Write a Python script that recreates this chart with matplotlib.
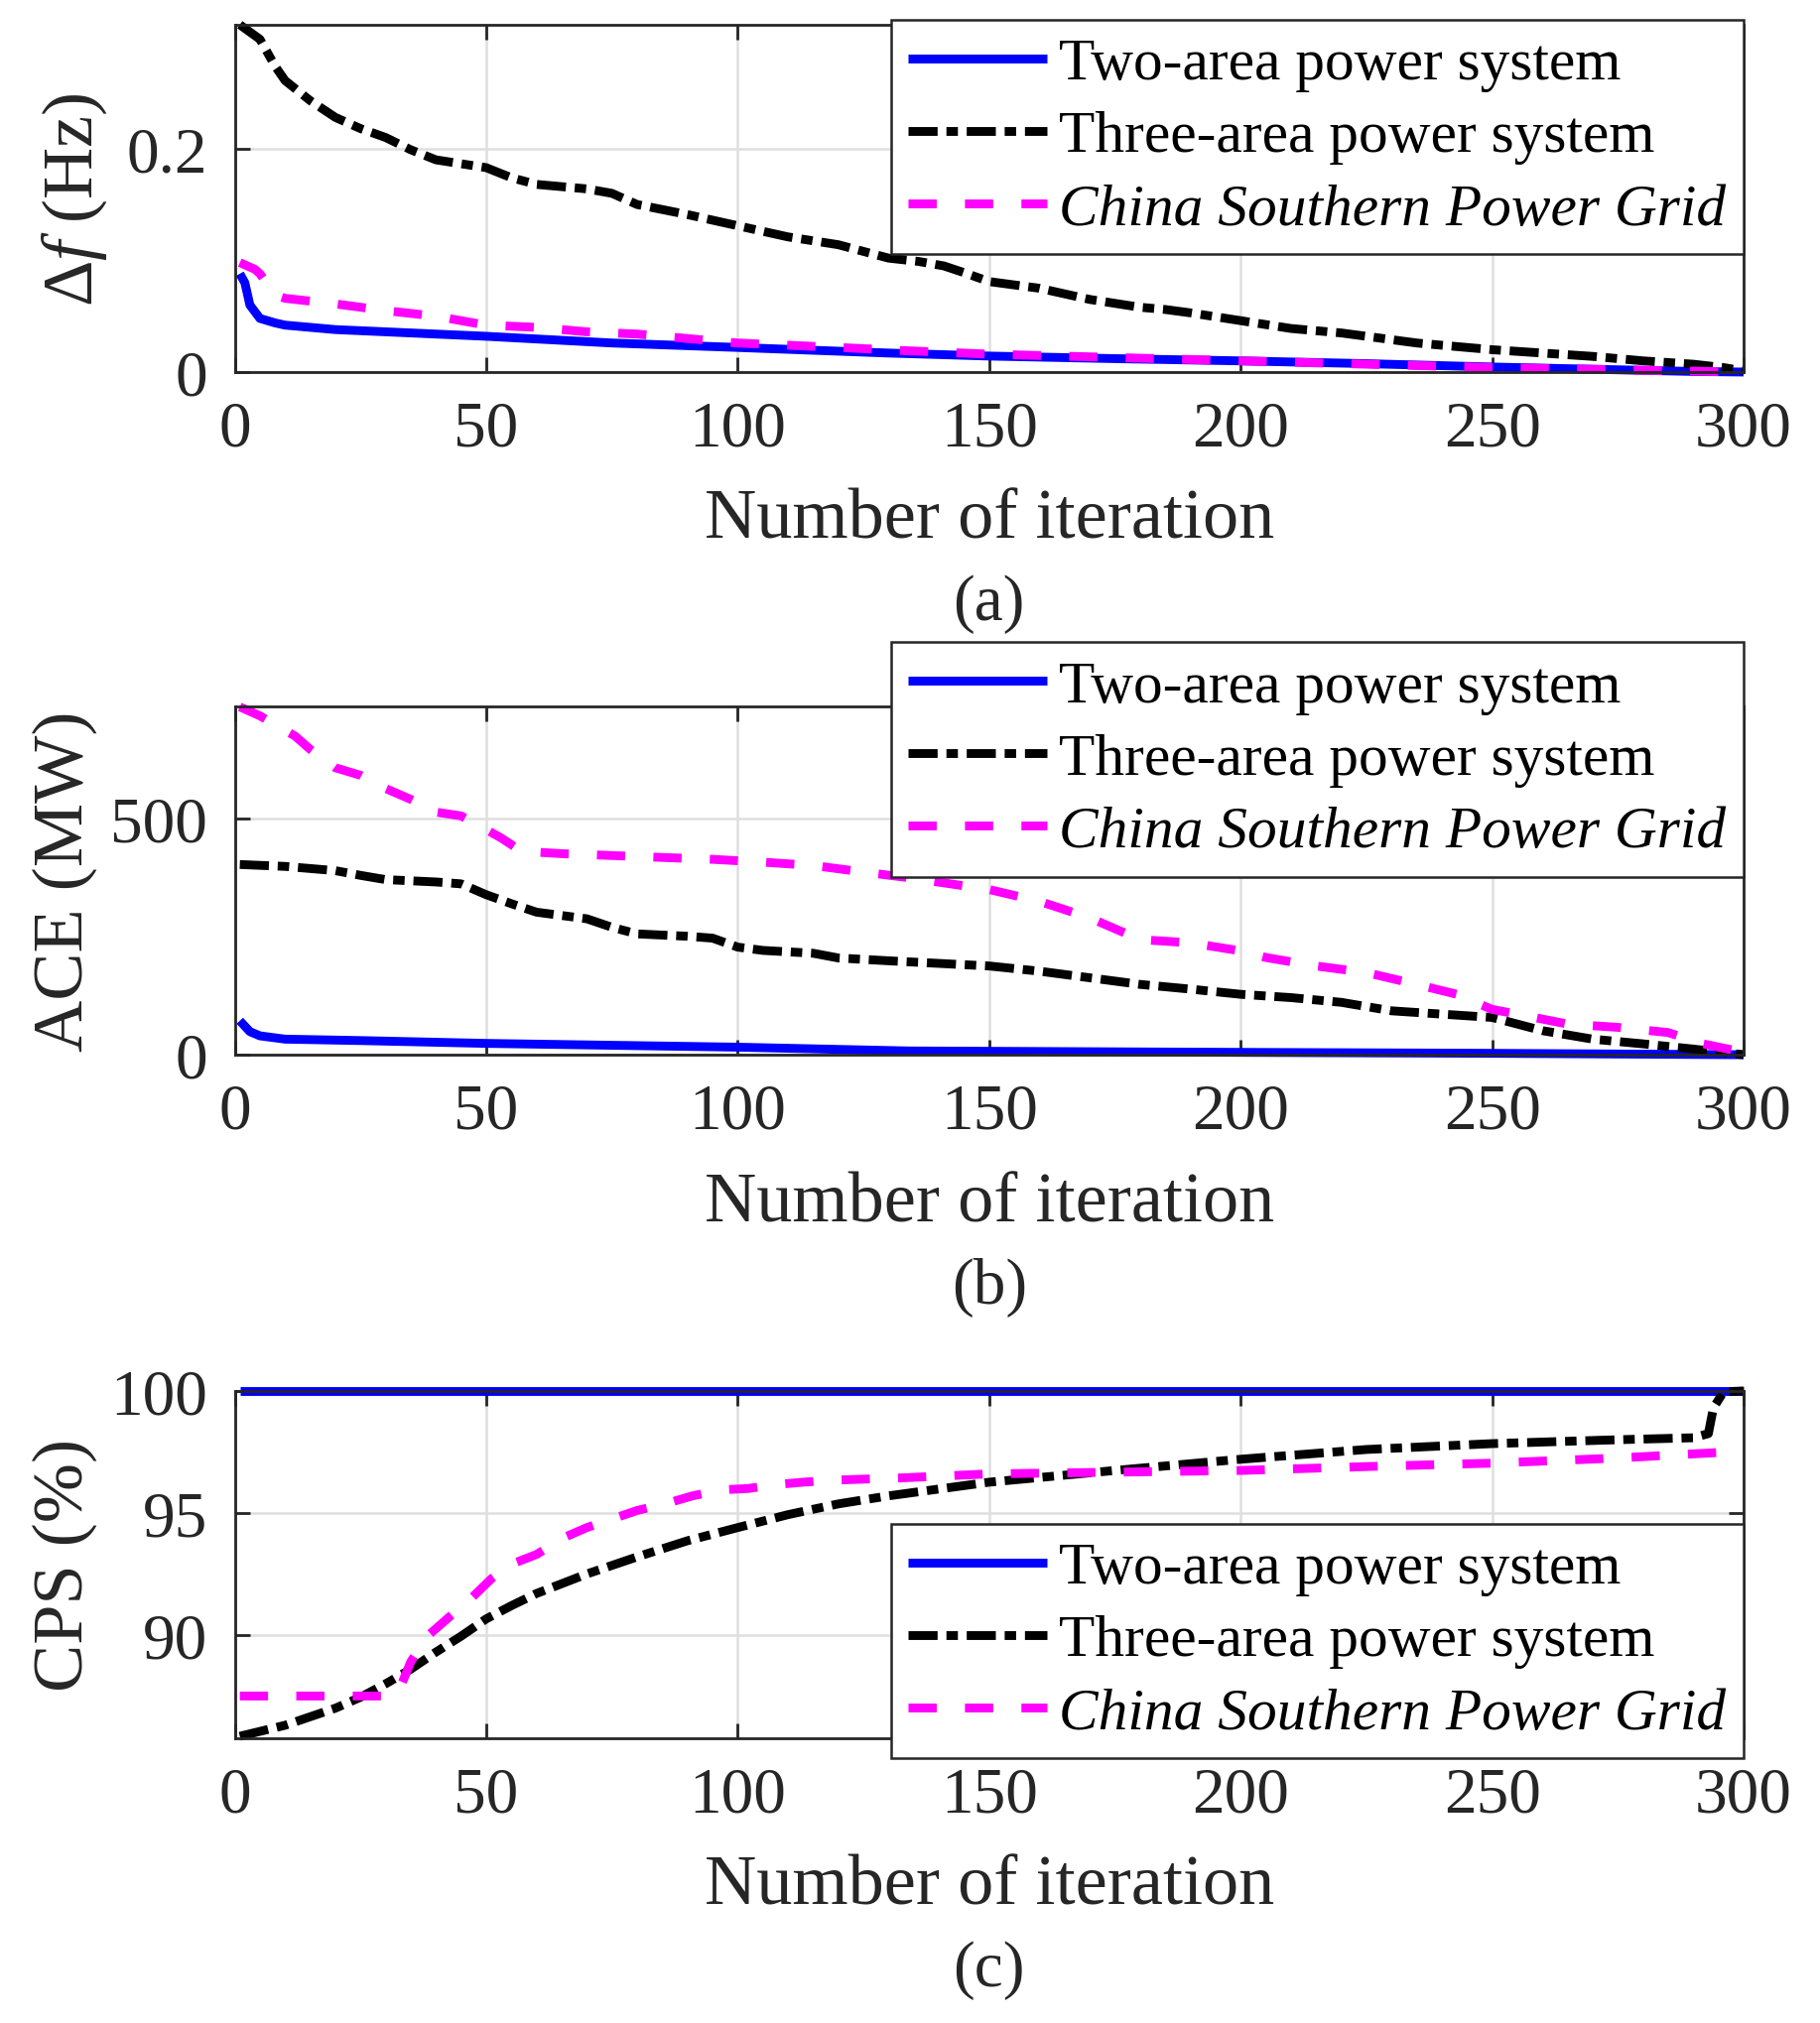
import matplotlib
matplotlib.use("Agg")
import matplotlib.pyplot as plt

# -----------------------------
# Data
# -----------------------------
series_names = ["Two-area power system", "Three-area power system",
                "China Southern Power Grid"]
x_ticks = [0, 50, 100, 150, 200, 250, 300]

# (a) frequency deviation (Hz)
it_df_two = [1, 2, 3, 5, 8, 10, 20, 50, 75, 100, 130, 150, 175, 200, 225, 250, 275, 290, 300]
df_two = [0.088, 0.080, 0.060, 0.048, 0.044, 0.042, 0.038, 0.032, 0.026, 0.022, 0.017,
          0.0143, 0.012, 0.010, 0.0075, 0.0045, 0.002, 0.0005, 0.0]

it_df_three = [1, 5, 8, 10, 15, 20, 25, 30, 35, 40, 50, 55, 60, 70, 75, 80, 90, 100, 110,
               120, 125, 130, 136, 141, 145, 150, 160, 170, 180, 185, 190, 200, 210, 220,
               225, 235, 245, 250, 260, 270, 280, 290, 296, 300]
df_three = [0.311, 0.298, 0.274, 0.261, 0.243, 0.228, 0.218, 0.210, 0.199, 0.190, 0.183,
            0.174, 0.168, 0.164, 0.160, 0.150, 0.141, 0.131, 0.121, 0.114, 0.108, 0.102,
            0.099, 0.095, 0.089, 0.081, 0.075, 0.065, 0.058, 0.056, 0.053, 0.046, 0.039,
            0.035, 0.032, 0.026, 0.022, 0.020, 0.017, 0.014, 0.010, 0.007, 0.004, 0.001]

it_df_csg = [1, 4, 5, 8, 10, 20, 30, 40, 50, 60, 70, 80, 90, 100, 110, 120, 134, 150, 175,
             200, 225, 250, 275, 300]
df_csg = [0.098, 0.092, 0.088, 0.069, 0.066, 0.061, 0.055, 0.050, 0.042, 0.040, 0.036,
          0.034, 0.030, 0.026, 0.024, 0.022, 0.019, 0.016, 0.013, 0.010, 0.007, 0.004,
          0.002, 0.0]

# (b) ACE (MW)
it_ace_two = [1, 3, 5, 10, 25, 50, 100, 134, 200, 250, 300]
ace_two = [72, 49, 40, 33, 30, 24, 16, 8, 5, 3, 0]

it_ace_three = [1, 10, 20, 25, 30, 40, 45, 50, 55, 60, 65, 70, 75, 80, 90, 95, 100, 105,
                115, 120, 130, 150, 160, 170, 180, 190, 200, 210, 220, 230, 240, 250, 260,
                270, 280, 290, 300]
ace_three = [403, 399, 390, 380, 371, 366, 362, 339, 320, 302, 295, 288, 270, 256, 251,
             247, 228, 221, 215, 205, 199, 188, 177, 163, 149, 139, 128, 121, 111, 93, 86,
             79, 51, 33, 23, 12, 0]

it_ace_csg = [1, 5, 12, 15, 20, 25, 30, 35, 40, 45, 50, 53, 57, 65, 80, 95, 105, 115, 125,
              134, 150, 160, 170, 180, 190, 200, 205, 215, 225, 235, 243, 250, 255, 265,
              275, 285, 292, 300]
ace_csg = [737, 718, 675, 647, 608, 592, 564, 541, 514, 506, 477, 459, 431, 426, 420, 414,
           408, 401, 387, 375, 350, 325, 290, 244, 237, 220, 206, 188, 174, 149, 128, 96,
           86, 65, 58, 47, 23, 5]

# (c) CPS (%)
it_cps_two = [1, 100, 200, 300]
cps_two = [100, 100, 100, 100]

it_cps_three = [1, 10, 20, 25, 30, 35, 40, 45, 50, 55, 60, 70, 80, 90, 100, 110, 120, 130,
                150, 175, 200, 225, 250, 275, 290, 293, 294, 296, 300]
cps_three = [85.85, 86.3, 87.0, 87.45, 88.0, 88.6, 89.3, 89.95, 90.66, 91.2, 91.7, 92.5,
             93.2, 93.86, 94.4, 94.93, 95.37, 95.7, 96.26, 96.74, 97.2, 97.6, 97.84, 98.0,
             98.08, 98.25, 99.3, 99.96, 100]

it_cps_csg = [1, 31, 33, 35, 38, 43, 47, 51, 55, 60, 65, 70, 75, 80, 86, 91, 97, 102, 108,
              113, 120, 133, 150, 175, 200, 225, 250, 275, 290, 300]
cps_csg = [87.5, 87.5, 87.9, 88.9, 89.9, 90.8, 91.5, 92.3, 92.9, 93.3, 93.95, 94.4, 94.75,
           95.1, 95.4, 95.7, 95.95, 96.0, 96.17, 96.26, 96.35, 96.44, 96.6, 96.67, 96.74,
           96.9, 97.04, 97.25, 97.42, 97.53]

# -----------------------------
# Style
# -----------------------------
plt.rcParams['font.family'] = ['Liberation Serif', 'DejaVu Serif']
plt.rcParams['mathtext.fontset'] = 'custom'
plt.rcParams['mathtext.rm'] = 'Liberation Serif'
plt.rcParams['mathtext.it'] = 'Liberation Serif:italic'

frame_col = '#262626'
grid_col = '#dfdfdf'
styles = [dict(color='#0000ff', linestyle='-'),
          dict(color='#000000', linestyle=(0, (3.3, 1.0, 1.3, 1.0))),
          dict(color='#ff00ff', linestyle=(0, (3.2, 3.2)))]
lw = 3.2

fig = plt.figure(figsize=(9.17, 10.2), dpi=200)

panels = [
    dict(rect=[0.129, 0.8157, 0.829, 0.1716], ylim=(0, 0.311), yticks=[0, 0.2],
         yticklabels=['0', '0.2'], ylabel=r'$\Delta f$ (Hz)', ylab_x=-0.106,
         tag='(a)', leg_top=1.014,
         data=[(it_df_two, df_two), (it_df_three, df_three), (it_df_csg, df_csg)]),
    dict(rect=[0.129, 0.4784, 0.829, 0.1721], ylim=(0, 738), yticks=[0, 500],
         yticklabels=['0', '500'], ylabel='ACE (MW)', ylab_x=-0.113,
         tag='(b)', leg_top=1.184,
         data=[(it_ace_two, ace_two), (it_ace_three, ace_three), (it_ace_csg, ace_csg)]),
    dict(rect=[0.129, 0.1407, 0.829, 0.1716], ylim=(85.77, 100), yticks=[90, 95, 100],
         yticklabels=['90', '95', '100'], ylabel='CPS (%)', ylab_x=-0.113,
         tag='(c)', leg_top=0.617,
         data=[(it_cps_two, cps_two), (it_cps_three, cps_three), (it_cps_csg, cps_csg)]),
]

for p in panels:
    ax = fig.add_axes(p['rect'])
    for (xs, ys), st, name in zip(p['data'], styles, series_names):
        ax.plot(xs, ys, lw=lw, label=name, clip_on=False, solid_capstyle='butt',
                dash_capstyle='butt', **st)

    ax.set_xlim(0, 300)
    ax.set_ylim(*p['ylim'])
    ax.set_xticks(x_ticks)
    ax.set_yticks(p['yticks'])
    ax.set_yticklabels(p['yticklabels'])
    ax.grid(True, color=grid_col, lw=0.9)
    ax.set_axisbelow(True)
    ax.tick_params(direction='in', length=5.5, width=1.0, colors=frame_col,
                   labelsize=23.5, pad=10, top=True, right=True)
    for s in ax.spines.values():
        s.set_color(frame_col)
        s.set_linewidth(1.0)

    ax.set_xlabel('Number of iteration', fontsize=26, color=frame_col, va='center')
    ax.xaxis.set_label_coords(0.5, -0.426)
    ax.set_ylabel(p['ylabel'], fontsize=26, color=frame_col, va='center')
    ax.yaxis.set_label_coords(p['ylab_x'], 0.5)
    ax.text(0.5, -0.665, p['tag'], transform=ax.transAxes, ha='center', va='center',
            fontsize=23.5, color=frame_col)

    leg = ax.legend(loc='upper right', bbox_to_anchor=(1.0, p['leg_top']),
                    borderaxespad=0, fontsize=21.4, handlelength=2.35, handletextpad=0.2,
                    labelspacing=0.31, borderpad=0.3, fancybox=False, framealpha=1,
                    edgecolor=frame_col)
    leg.get_frame().set_linewidth(0.9)
    leg.get_texts()[2].set_fontstyle('italic')

fig.savefig('out.png', dpi=200)
